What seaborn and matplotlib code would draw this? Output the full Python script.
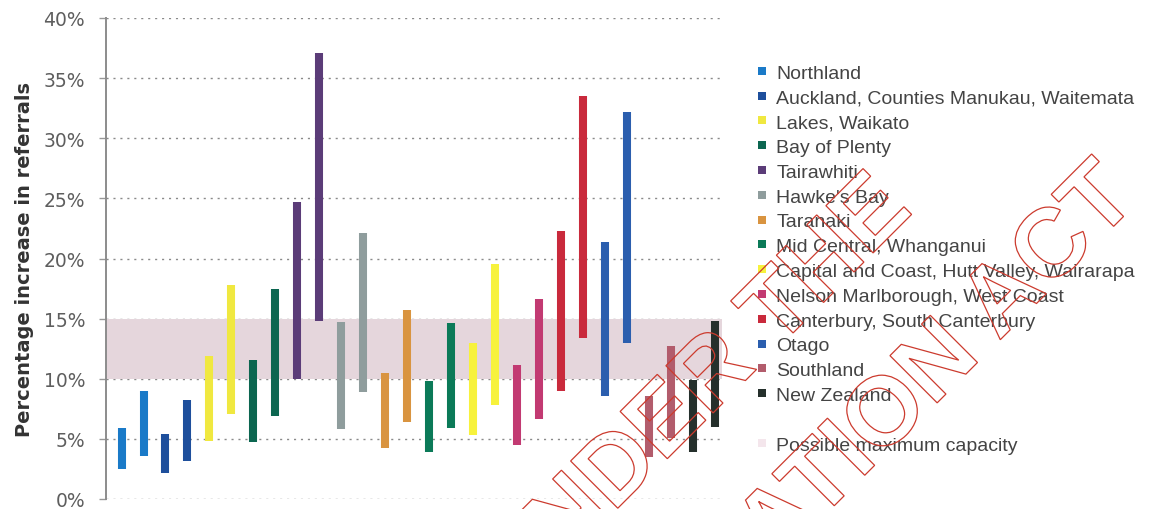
import numpy as np
import pandas as pd
import matplotlib
matplotlib.use("Agg")
import matplotlib.pyplot as plt
import seaborn as sns
from matplotlib.lines import Line2D
from matplotlib.patches import PathPatch
from matplotlib.textpath import TextPath
from matplotlib.font_manager import FontProperties
from matplotlib.transforms import Affine2D
from matplotlib.ticker import FuncFormatter

# Regions and their colours
regions = [
    "Northland",
    "Auckland, Counties Manukau, Waitemata",
    "Lakes, Waikato",
    "Bay of Plenty",
    "Tairawhiti",
    "Hawke's Bay",
    "Taranaki",
    "Mid Central, Whanganui",
    "Capital and Coast, Hutt Valley, Wairarapa",
    "Nelson Marlborough, West Coast",
    "Canterbury, South Canterbury",
    "Otago",
    "Southland",
    "New Zealand",
]
colors = [
    "#1a7ac8", "#1e4f9c", "#f0e840", "#0c6650", "#5b3c78", "#8f9d9d", "#d99440",
    "#0b7a58", "#f7f23c", "#c23a72", "#c92a3c", "#2b5eae", "#b25c6c", "#25302c",
]

# Projected range of referral increase (%) per region: first and second scenario
first_low = [2.5, 2.2, 4.8, 4.7, 10.0, 5.8, 4.2, 3.9, 5.3, 4.5, 8.95, 8.6, 3.5, 3.9]
first_high = [5.9, 5.4, 11.9, 11.6, 24.7, 14.75, 10.45, 9.85, 13.0, 11.15, 22.3, 21.35, 8.6, 9.9]
second_low = [3.6, 3.2, 7.1, 6.9, 14.8, 8.9, 6.4, 5.9, 7.85, 6.65, 13.4, 13.0, 5.1, 6.0]
second_high = [9.0, 8.2, 17.8, 17.5, 37.1, 22.1, 15.7, 14.6, 19.55, 16.6, 33.55, 32.2, 12.75, 14.8]

capacity_low, capacity_high = 10, 15
capacity_label = "Possible maximum capacity"
y_ticks = list(range(0, 41, 5))
y_label = "Percentage increase in referrals"

# Long-form table: each floating bar is a vertical segment from low to high
rows = []
for i, name in enumerate(regions):
    for j, (lo, hi) in enumerate([(first_low[i], first_high[i]), (second_low[i], second_high[i])]):
        pos = 2 * i + j
        rows.append({"pos": pos, "value": lo, "region": name, "bar": pos})
        rows.append({"pos": pos, "value": hi, "region": name, "bar": pos})
df = pd.DataFrame(rows)

sns.set_style("white")
plt.rcParams["font.family"] = ["Liberation Sans", "DejaVu Sans"]

W, H = 1158, 510
fig = plt.figure(figsize=(W / 100, H / 100), dpi=100)
ax = fig.add_axes([106 / W, 10 / H, (722 - 106) / W, (500 - 19) / H])

ax.axhspan(capacity_low, capacity_high, color="#e5d6dc", zorder=1, lw=0)

sns.lineplot(
    data=df, x="pos", y="value", hue="region", units="bar", estimator=None,
    palette=dict(zip(regions, colors)), hue_order=regions, linewidth=5.8,
    solid_capstyle="butt", sort=False, legend=False, ax=ax, zorder=3,
)

ax.set_xlim(-0.705, 27.3)
ax.set_ylim(0, 40)
ax.set_xticks([])
ax.set_xlabel("")
ax.set_yticks(y_ticks)
ax.yaxis.set_major_formatter(FuncFormatter(lambda v, p: f"{v:.0f}%"))
ax.tick_params(axis="y", length=5, width=1, color="#999999", labelcolor="#5e5e5e",
               labelsize=13.5, pad=10, left=True)
for lab in ax.get_yticklabels():
    lab.set_fontfamily("DejaVu Sans")
ax.set_ylabel(y_label, fontsize=14, fontweight="bold", color="#333333",
              labelpad=7, family="DejaVu Sans")
ax.yaxis.grid(True, linestyle=(0, (1.5, 3.5)), color="#8a8a8a", linewidth=1)
ax.set_axisbelow(True)
for s in ["top", "right", "bottom"]:
    ax.spines[s].set_visible(False)
ax.spines["left"].set_color("#8c8c8c")
ax.spines["left"].set_linewidth(1.4)

# Legend: region swatches, a spacer, then the capacity band
handles = [Line2D([], [], marker="s", linestyle="", markersize=6, color=c,
                  markeredgewidth=0) for c in colors]
labels = list(regions)
handles.append(Line2D([], [], linestyle="", marker=None))
labels.append("")
handles.append(Line2D([], [], marker="s", linestyle="", markersize=6, color="#f4e6ec",
                      markeredgewidth=0))
labels.append(capacity_label)
fig.legend(handles, labels, loc="upper left", bbox_to_anchor=(756 / W, 1 - 65 / H),
           frameon=False, fontsize=14, labelspacing=0.37, handlelength=0.6,
           handletextpad=0.45, borderaxespad=0, borderpad=0, labelcolor="#444444")

# Stamp across the lower right
stamp_font = FontProperties(family="Liberation Sans", weight="bold")
to_fig = Affine2D().scale(1 / W, 1 / H) + fig.transFigure
for text, end in [("RELEASED UNDER THE", (907, 510 - 220)),
                  ("OFFICIAL INFORMATION ACT", (1136, 510 - 205))]:
    tp = TextPath((0, 0), text, size=97, prop=stamp_font)
    w = tp.get_extents().width
    x0 = end[0] - w * np.cos(np.pi / 4)
    y0 = end[1] - w * np.sin(np.pi / 4)
    path = Affine2D().rotate_deg(45).translate(x0, y0).transform_path(tp)
    fig.add_artist(PathPatch(path, facecolor="none", edgecolor="#cc3b2e",
                             linewidth=0.9, transform=to_fig, zorder=10))

fig.savefig("out.png", dpi=100)
